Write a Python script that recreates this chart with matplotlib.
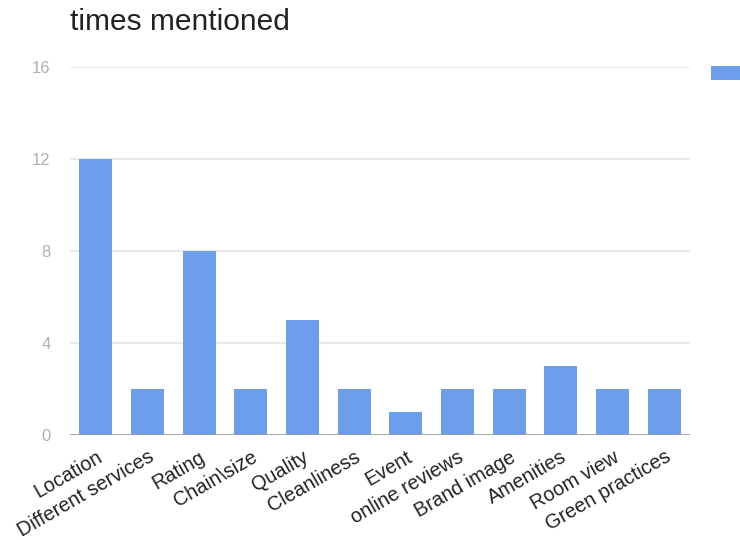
import matplotlib.pyplot as plt
import numpy as np

categories = ["Location", "Different services", "Rating", "Chain\\size", "Quality",
              "Cleanliness", "Event", "online reviews", "Brand image", "Amenities",
              "Room view", "Green practices"]
counts = [12, 2, 8, 2, 5, 2, 1, 2, 2, 3, 2, 2]
yticks = [0, 4, 8, 12, 16]


def main():
    plt.rcParams["font.family"] = ["Liberation Sans", "DejaVu Sans"]

    fig = plt.figure(figsize=(7.4, 5.4), dpi=100)
    ax = fig.add_axes([70 / 740, 1 - 435 / 540, 620 / 740, 368 / 540])

    x = np.arange(len(categories))
    bars = ax.bar(x, counts, width=0.64, color="#6d9eeb", zorder=3)

    ax.set_xlim(-0.5, len(categories) - 0.5)
    ax.set_ylim(0, 16)
    ax.set_yticks(yticks)
    ax.set_yticklabels([str(v) for v in yticks], color="#b0b0b0", fontsize=12)
    ax.grid(axis="y", color="#e4e4e4", linewidth=1.2, zorder=0)
    ax.axhline(0, color="#9a9a9a", linewidth=1.2, zorder=4)

    ax.set_xticks(x)
    ax.set_xticklabels(categories, rotation=30, ha="right", rotation_mode="anchor",
                       fontsize=14.3, color="#222222")
    ax.tick_params(axis="both", length=0)
    ax.tick_params(axis="y", pad=14)
    ax.tick_params(axis="x", pad=9)
    for s in ax.spines.values():
        s.set_visible(False)

    fig.text(70 / 740, 1 - 22 / 540, "times mentioned", fontsize=21.5,
             color="#222222", va="center", ha="left")

    # legend swatch only; its label sits beyond the right edge in the original
    ax.legend([bars], [""], loc="upper left", bbox_to_anchor=(711 / 740, 1 - 66 / 540),
              bbox_transform=fig.transFigure, frameon=False, fontsize=12,
              handlelength=1.75, handleheight=0.96, borderpad=0, borderaxespad=0)

    fig.savefig("out.png", dpi=100)


if __name__ == "__main__":
    main()
